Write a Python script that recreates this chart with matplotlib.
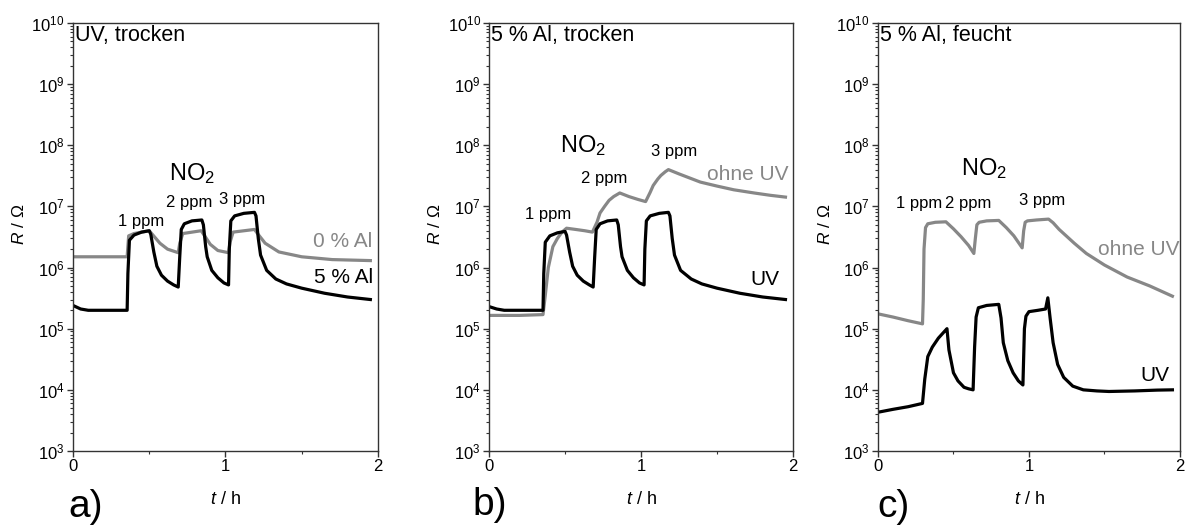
import matplotlib.pyplot as plt
import numpy as np
from matplotlib.ticker import LogLocator, MultipleLocator, NullFormatter

plt.rcParams['font.family'] = ['Liberation Sans', 'DejaVu Sans']
plt.rcParams['mathtext.fontset'] = 'custom'
plt.rcParams['mathtext.rm'] = 'Liberation Sans'
plt.rcParams['mathtext.it'] = 'Liberation Sans:italic'

# a) UV, trocken -- 5 % Al (black) and 0 % Al (grey)
t_a_al5 = [0, 0.05, 0.1, 0.2, 0.355, 0.36, 0.37, 0.40, 0.45, 0.50, 0.51, 0.53, 0.55,
           0.58, 0.62, 0.66, 0.69, 0.70, 0.71, 0.73, 0.78, 0.845, 0.855, 0.87, 0.88,
           0.91, 0.95, 0.99, 1.02, 1.025, 1.035, 1.06, 1.12, 1.19, 1.20, 1.215, 1.23,
           1.27, 1.33, 1.40, 1.50, 1.65, 1.80, 1.95]
R_a_al5 = [2.4e5, 2.1e5, 2.0e5, 2.0e5, 2.0e5, 8e5, 2.8e6, 3.4e6, 3.8e6, 4.0e6, 3.5e6, 1.8e6,
           1.05e6, 7.5e5, 6e5, 5.2e5, 4.8e5, 1.5e6, 4.2e6, 5.2e6, 5.8e6, 6.0e6, 5.0e6, 2.2e6,
           1.5e6, 9e5, 6.8e5, 5.6e5, 5.2e5, 2e6, 5.8e6, 7.0e6, 7.7e6, 8.0e6, 7.0e6, 3.0e6,
           1.6e6, 9e5, 6.5e5, 5.4e5, 4.6e5, 3.8e5, 3.3e5, 3.0e5]
t_a_al0 = [0, 0.2, 0.355, 0.365, 0.40, 0.50, 0.52, 0.57, 0.62, 0.69, 0.70, 0.72, 0.84,
           0.86, 0.90, 0.95, 1.02, 1.03, 1.05, 1.19, 1.21, 1.26, 1.35, 1.50, 1.70, 1.95]
R_a_al0 = [1.5e6, 1.5e6, 1.5e6, 3.3e6, 3.6e6, 4.0e6, 3.5e6, 2.5e6, 2.0e6, 1.75e6, 2.5e6,
           3.6e6, 4.0e6, 3.4e6, 2.4e6, 1.9e6, 1.75e6, 2.6e6, 3.8e6, 4.2e6, 3.6e6, 2.5e6,
           1.8e6, 1.5e6, 1.35e6, 1.3e6]

# b) 5 % Al, trocken -- UV (black) and ohne UV (grey)
t_b_uv = [0, 0.05, 0.1, 0.2, 0.355, 0.36, 0.37, 0.40, 0.45, 0.50, 0.51, 0.53, 0.55,
          0.58, 0.62, 0.66, 0.685, 0.695, 0.705, 0.73, 0.78, 0.84, 0.85, 0.865, 0.875,
          0.91, 0.95, 0.99, 1.02, 1.025, 1.035, 1.06, 1.12, 1.18, 1.19, 1.205, 1.22,
          1.26, 1.33, 1.40, 1.50, 1.65, 1.80, 1.95]
R_b_uv = [2.3e5, 2.1e5, 2.0e5, 2.0e5, 2.0e5, 8e5, 2.6e6, 3.3e6, 3.7e6, 3.9e6, 3.4e6, 1.8e6,
          1.05e6, 7.5e5, 6e5, 5.2e5, 4.8e5, 1.5e6, 4.2e6, 5.2e6, 5.8e6, 6.0e6, 5.0e6, 2.2e6,
          1.5e6, 9e5, 6.8e5, 5.6e5, 5.2e5, 2e6, 5.8e6, 7.0e6, 7.7e6, 8.0e6, 7.0e6, 3.0e6,
          1.6e6, 9e5, 6.5e5, 5.4e5, 4.6e5, 3.8e5, 3.3e5, 3.0e5]
t_b_dark = [0, 0.2, 0.355, 0.37, 0.39, 0.42, 0.45, 0.48, 0.51, 0.57, 0.63, 0.68, 0.71,
            0.73, 0.76, 0.79, 0.82, 0.86, 0.92, 0.98, 1.03, 1.06, 1.08, 1.11, 1.13,
            1.16, 1.18, 1.25, 1.39, 1.50, 1.61, 1.75, 1.85, 1.95]
R_b_dark = [1.65e5, 1.65e5, 1.7e5, 3.5e5, 1.0e6, 2.2e6, 3.0e6, 3.8e6, 4.4e6, 4.2e6, 4.0e6,
            3.8e6, 5.5e6, 7.8e6, 1.0e7, 1.26e7, 1.45e7, 1.66e7, 1.45e7, 1.3e7, 1.2e7, 1.7e7,
            2.2e7, 2.8e7, 3.2e7, 3.7e7, 4.0e7, 3.4e7, 2.5e7, 2.15e7, 1.87e7, 1.65e7, 1.52e7,
            1.42e7]

# c) 5 % Al, feucht -- UV (black) and ohne UV (grey)
t_c_uv = [0, 0.1, 0.2, 0.295, 0.31, 0.33, 0.36, 0.40, 0.44, 0.457, 0.47, 0.50, 0.53,
          0.57, 0.60, 0.63, 0.64, 0.65, 0.665, 0.72, 0.80, 0.815, 0.83, 0.86, 0.895,
          0.93, 0.96, 0.97, 0.98, 1.00, 1.06, 1.11, 1.125, 1.14, 1.16, 1.19, 1.23,
          1.29, 1.36, 1.45, 1.53, 1.70, 1.85, 1.95]
R_c_uv = [4.3e3, 4.8e3, 5.3e3, 6e3, 1.5e4, 3.5e4, 5e4, 7e4, 9e4, 1e5, 4.5e4, 1.9e4, 1.4e4,
          1.1e4, 1.04e4, 1e4, 5e4, 1.55e5, 2.2e5, 2.4e5, 2.5e5, 1.5e5, 5.9e4, 3e4, 1.9e4,
          1.4e4, 1.2e4, 1.0e5, 1.6e5, 1.9e5, 2.0e5, 2.1e5, 3.2e5, 1.5e5, 5.9e4, 2.6e4,
          1.6e4, 1.15e4, 1e4, 9.6e3, 9.4e3, 9.6e3, 9.9e3, 1e4]
t_c_dark = [0, 0.1, 0.2, 0.295, 0.30, 0.305, 0.315, 0.33, 0.38, 0.45, 0.50, 0.55, 0.60,
            0.635, 0.645, 0.655, 0.67, 0.72, 0.80, 0.85, 0.90, 0.955, 0.965, 0.975,
            0.99, 1.05, 1.13, 1.16, 1.20, 1.30, 1.38, 1.50, 1.65, 1.80, 1.95]
R_c_dark = [1.75e5, 1.55e5, 1.35e5, 1.2e5, 3e5, 2e6, 4.5e6, 5.2e6, 5.5e6, 5.6e6, 4.3e6,
            3.2e6, 2.3e6, 1.7e6, 3e6, 5e6, 5.5e6, 5.8e6, 5.9e6, 4.5e6, 3.3e6, 2.1e6, 4e6,
            5.5e6, 5.8e6, 6.0e6, 6.2e6, 5.4e6, 4.2e6, 2.5e6, 1.7e6, 1.1e6, 7e5, 5e5, 3.4e5]

GREY = '#878787'

fig = plt.figure(figsize=(11.89, 5.31), dpi=100)
ax_a = fig.add_axes([0.0614, 0.1507, 0.2565, 0.806])
ax_b = fig.add_axes([0.4113, 0.1507, 0.2557, 0.806])
ax_c = fig.add_axes([0.7384, 0.1507, 0.2540, 0.806])


def style(ax, title):
    ax.set_yscale('log')
    ax.set_xlim(0, 2)
    ax.set_ylim(1e3, 1e10)
    ax.yaxis.set_major_locator(LogLocator(base=10, numticks=20))
    ax.yaxis.set_minor_locator(LogLocator(base=10, subs=np.arange(2, 10), numticks=50))
    ax.yaxis.set_minor_formatter(NullFormatter())
    ax.xaxis.set_major_locator(MultipleLocator(1))
    ax.xaxis.set_minor_locator(MultipleLocator(0.5))
    ax.tick_params(which='major', direction='out', length=4, width=1, labelsize=12,
                   color='#333333', pad=2)
    ax.tick_params(which='minor', direction='out', length=2.5, width=0.8, color='#333333')
    for s in ax.spines.values():
        s.set_color('#333333')
        s.set_linewidth(1)
    ax.set_xlabel('$t$ / h', fontsize=13)
    ax.xaxis.set_label_coords(0.5, -0.094)
    ax.set_ylabel('$R$ / \u03a9', fontsize=12.5)
    ax.yaxis.set_label_coords(-0.15, 0.53)
    ax.text(0.006, 0.97, title, transform=ax.transAxes, fontsize=15.5, va='center', ha='left')


style(ax_a, 'UV, trocken')
ax_a.plot(t_a_al0, R_a_al0, color=GREY, lw=2.3)
ax_a.plot(t_a_al5, R_a_al5, color='black', lw=2.3)
ax_a.text(0.78, 10**7.43, 'NO$_2$', fontsize=17, ha='center', va='baseline')
ax_a.text(0.45, 10**6.76, '1 ppm', fontsize=12, ha='center', va='center')
ax_a.text(0.76, 10**7.07, '2 ppm', fontsize=12, ha='center', va='center')
ax_a.text(1.11, 10**7.12, '3 ppm', fontsize=12, ha='center', va='center')
ax_a.text(1.96, 10**6.43, '0 % Al', fontsize=15, ha='right', va='center', color=GREY)
ax_a.text(1.97, 10**5.83, '5 % Al', fontsize=15, ha='right', va='center', color='black')

style(ax_b, '5 % Al, trocken')
ax_b.plot(t_b_dark, R_b_dark, color=GREY, lw=2.3)
ax_b.plot(t_b_uv, R_b_uv, color='black', lw=2.3)
ax_b.text(0.62, 10**7.89, 'NO$_2$', fontsize=17, ha='center', va='baseline')
ax_b.text(0.39, 10**6.86, '1 ppm', fontsize=12, ha='center', va='center')
ax_b.text(0.76, 10**7.45, '2 ppm', fontsize=12, ha='center', va='center')
ax_b.text(1.22, 10**7.89, '3 ppm', fontsize=12, ha='center', va='center')
ax_b.text(1.97, 10**7.53, 'ohne UV', fontsize=15, ha='right', va='center', color=GREY)
ax_b.text(1.91, 10**5.8, 'UV', fontsize=15, ha='right', va='center', color='black')

style(ax_c, '5 % Al, feucht')
ax_c.plot(t_c_dark, R_c_dark, color=GREY, lw=2.3)
ax_c.plot(t_c_uv, R_c_uv, color='black', lw=2.3)
ax_c.text(0.70, 10**7.51, 'NO$_2$', fontsize=17, ha='center', va='baseline')
ax_c.text(0.27, 10**7.04, '1 ppm', fontsize=12, ha='center', va='center')
ax_c.text(0.60, 10**7.04, '2 ppm', fontsize=12, ha='center', va='center')
ax_c.text(1.09, 10**7.10, '3 ppm', fontsize=12, ha='center', va='center')
ax_c.text(2.0, 10**6.3, 'ohne UV', fontsize=15, ha='right', va='center', color=GREY)
ax_c.text(1.93, 10**4.24, 'UV', fontsize=15, ha='right', va='center', color='black')

fig.text(68 / 1189, 1 - 517 / 531, 'a)', fontsize=28, ha='left', va='baseline')
fig.text(472 / 1189, 1 - 515 / 531, 'b)', fontsize=28, ha='left', va='baseline')
fig.text(877 / 1189, 1 - 517 / 531, 'c)', fontsize=28, ha='left', va='baseline')

fig.savefig('out.png', dpi=100)
